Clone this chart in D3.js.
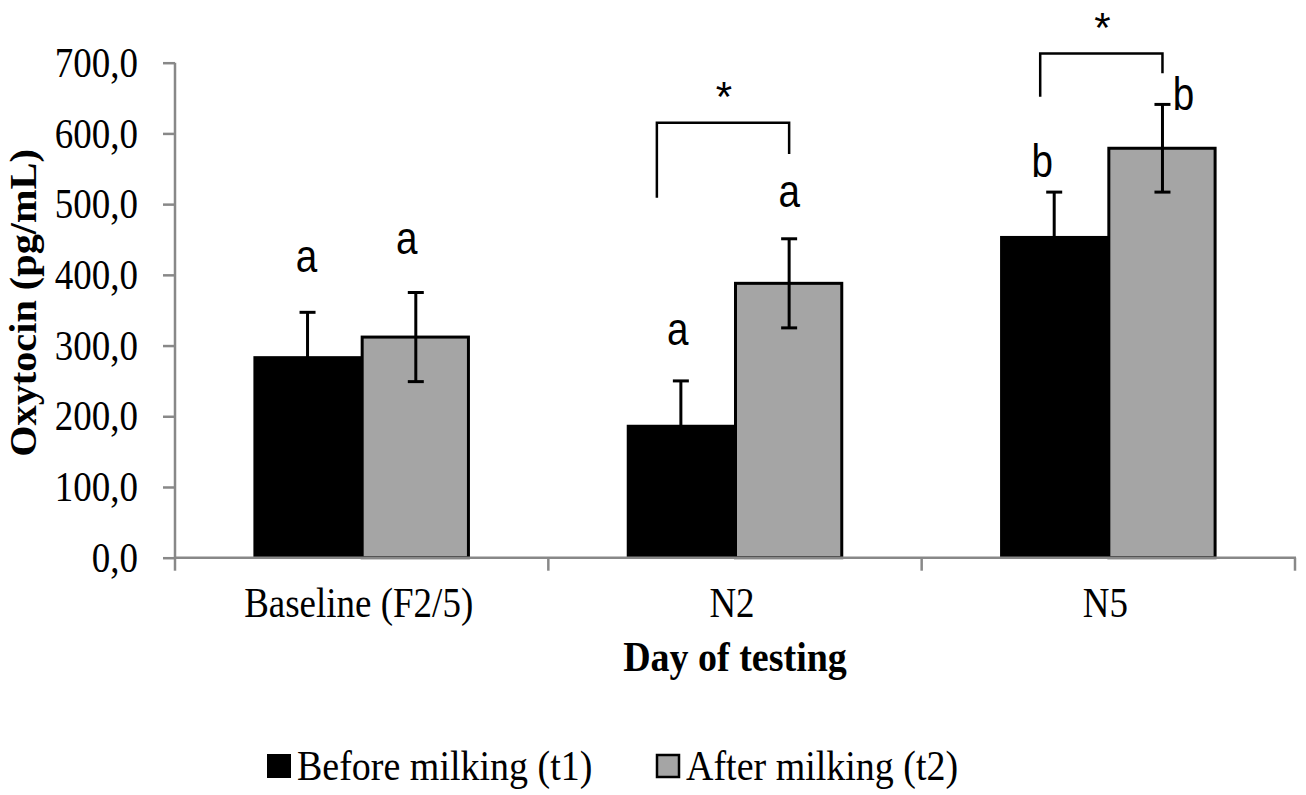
<!DOCTYPE html>
<html lang="en">
<head>
    <meta charset="UTF-8">
    <title>Oxytocin by day of testing</title>
    <script src="https://d3js.org/d3.v7.min.js"></script>
    <style>
        body {
            margin: 0;
            padding: 0;
            background-color: #fff;
        }
        .tick-label {
            font-family: "Liberation Serif", "Times New Roman", serif;
            font-size: 37px;
            fill: #000;
        }
        .axis-title {
            font-family: "Liberation Serif", "Times New Roman", serif;
            font-weight: bold;
            fill: #000;
        }
        .letter {
            font-family: "Liberation Sans", Arial, sans-serif;
            font-size: 42px;
            fill: #000;
        }
        .legend-text {
            font-family: "Liberation Serif", "Times New Roman", serif;
            font-size: 38px;
            fill: #000;
        }
    </style>
</head>
<body>
    <svg id="chart" width="1306" height="795"></svg>

    <script>
        // Data
        const categories = ["Baseline (F2/5)", "N2", "N5"];
        const seriesNames = ["Before milking (t1)", "After milking (t2)"];
        const beforeValues = [285, 188, 455];
        const afterValues = [312, 388, 579];
        const beforeErrors = [62, 62, 62];
        const afterErrors = [63, 63, 62];
        const beforeLetters = ["a", "a", "b"];
        const afterLetters = ["a", "a", "b"];
        const yTickValues = [0, 100, 200, 300, 400, 500, 600, 700];
        // significance brackets between t1 and t2 (values in pg/mL)
        const bracketCategories = ["N2", "N5"];
        const bracketLevels = [615, 713];
        const bracketLeftEnds = [509, 652];
        const bracketRightEnds = [571, 685];

        const seriesColors = ["#000000", "#a5a5a5"];
        const stretch = "scale(1,1.12)"; // the original figure's text is a bit tall

        const svg = d3.select("#chart");

        const plotLeft = 175, plotRight = 1295, plotTop = 62.7, plotBottom = 557.7;

        const x0 = d3.scaleBand()
            .domain(categories)
            .range([plotLeft, plotRight])
            .paddingInner(0.42)
            .paddingOuter(0.21);

        const x1 = d3.scaleBand()
            .domain(seriesNames)
            .range([0, x0.bandwidth()]);

        const y = d3.scaleLinear()
            .domain([0, 700])
            .range([plotBottom, plotTop]);

        const rows = categories.map((c, i) => [
            { cat: c, series: seriesNames[0], value: beforeValues[i], err: beforeErrors[i], letter: beforeLetters[i] },
            { cat: c, series: seriesNames[1], value: afterValues[i], err: afterErrors[i], letter: afterLetters[i] }
        ]);
        const flat = rows.flat();

        const barCenter = d => x0(d.cat) + x1(d.series) + x1.bandwidth() / 2;

        // Bars
        svg.append("g")
            .selectAll("rect")
            .data(flat)
            .enter().append("rect")
            .attr("x", d => x0(d.cat) + x1(d.series) + (d.series === seriesNames[1] ? 0.5 : 0))
            .attr("y", d => y(d.value))
            .attr("width", d => x1.bandwidth() - (d.series === seriesNames[1] ? 2 : 0))
            .attr("height", d => y(0) - y(d.value))
            .attr("fill", d => seriesColors[seriesNames.indexOf(d.series)])
            .attr("stroke", "#000")
            .attr("stroke-width", d => d.series === seriesNames[1] ? 3 : 0);

        // Error bars
        const err = svg.append("g")
            .attr("stroke", "#000")
            .attr("stroke-width", 3);

        flat.forEach(d => {
            const cx = barCenter(d);
            err.append("line")
                .attr("x1", cx).attr("x2", cx)
                .attr("y1", y(d.value - d.err)).attr("y2", y(d.value + d.err));
            [d.value + d.err, d.value - d.err].forEach(v => {
                err.append("line")
                    .attr("x1", cx - 8).attr("x2", cx + 8)
                    .attr("y1", y(v)).attr("y2", y(v));
            });
        });

        // Axes
        const yAxis = d3.axisLeft(y)
            .tickValues(yTickValues)
            .tickSize(12)
            .tickFormat(d => d3.format(".1f")(d).replace(".", ","));

        const gy = svg.append("g")
            .attr("transform", `translate(${plotLeft},0)`)
            .call(yAxis);
        gy.select(".domain").remove();
        gy.append("line")
            .attr("x1", 0).attr("x2", 0)
            .attr("y1", y(700)).attr("y2", y(0));
        gy.selectAll("line")
            .attr("stroke", "#888")
            .attr("stroke-width", 2.5);
        gy.selectAll(".tick text")
            .attr("class", "tick-label")
            .attr("x", -37)
            .attr("dy", "0.33em")
            .attr("transform", stretch);
        gy.attr("font-family", null).attr("font-size", null);

        const gx = svg.append("g")
            .attr("transform", `translate(0,${plotBottom})`);
        gx.append("line")
            .attr("x1", plotLeft).attr("x2", plotRight + 1)
            .attr("stroke", "#888")
            .attr("stroke-width", 2.5);
        const boundaries = [plotLeft].concat(categories.map(c => x0(c) + x0.bandwidth() + x0.step() * x0.paddingInner() / 2));
        boundaries[boundaries.length - 1] = plotRight;
        gx.selectAll(".xtick")
            .data(boundaries)
            .enter().append("line")
            .attr("x1", d => d).attr("x2", d => d)
            .attr("y1", 0).attr("y2", 13)
            .attr("stroke", "#888")
            .attr("stroke-width", 2.5);
        gx.selectAll(".xlabel")
            .data(categories)
            .enter().append("text")
            .attr("class", "tick-label")
            .attr("transform", d => `translate(${x0(d) + x0.bandwidth() / 2 - 3},59) ${stretch}`)
            .attr("text-anchor", "middle")
            .text(d => d);

        // Axis titles
        svg.append("text")
            .attr("class", "axis-title")
            .attr("font-size", 38)
            .attr("transform", `translate(735,671) ${stretch}`)
            .attr("text-anchor", "middle")
            .text("Day of testing");

        svg.append("text")
            .attr("class", "axis-title")
            .attr("font-size", 38)
            .attr("transform", "translate(36,303) rotate(-90) scale(1.06,1)")
            .attr("text-anchor", "middle")
            .text("Oxytocin (pg/mL)");

        // Group letters (nudges in px: dx from bar center, gap above error cap)
        const letterNudges = [[-1, 40], [-9, 39], [-3, 36], [0, 32], [-12, 15], [21, -6]];
        svg.append("g")
            .selectAll("text")
            .data(flat)
            .enter().append("text")
            .attr("class", "letter")
            .attr("text-anchor", "middle")
            .attr("transform", (d, i) => `translate(${barCenter(d) + letterNudges[i][0]},${y(d.value + d.err) - letterNudges[i][1]}) scale(0.92,1.1)`)
            .text(d => d.letter);

        // Significance brackets
        const leftLegNudges = [-24, -14];
        const br = svg.append("g");
        bracketCategories.forEach((c, i) => {
            const xl = barCenter({ cat: c, series: seriesNames[0] }) + leftLegNudges[i];
            const xr = barCenter({ cat: c, series: seriesNames[1] });
            br.append("path")
                .attr("d", `M${xl},${y(bracketLeftEnds[i])}V${y(bracketLevels[i])}H${xr}V${y(bracketRightEnds[i])}`)
                .attr("fill", "none")
                .attr("stroke", "#000")
                .attr("stroke-width", 2.5);
            br.append("text")
                .attr("class", "letter")
                .attr("font-size", 46)
                .attr("text-anchor", "middle")
                .attr("x", (xl + xr) / 2 + 1)
                .attr("y", y(bracketLevels[i]) - 12)
                .text("*");
        });

        // Legend
        const legendX = [267, 656];
        const legend = svg.append("g");
        seriesNames.forEach((s, i) => {
            legend.append("rect")
                .attr("x", legendX[i] + (i ? 1 : 0))
                .attr("y", 754 + (i ? 1 : 0))
                .attr("width", 24 - (i ? 2 : 0))
                .attr("height", 24 - (i ? 2 : 0))
                .attr("fill", seriesColors[i])
                .attr("stroke", "#000")
                .attr("stroke-width", i ? 2.5 : 0);
            legend.append("text")
                .attr("class", "legend-text")
                .attr("transform", `translate(${legendX[i] + 30},780) ${stretch}`)
                .text(s);
        });
    </script>
</body>
</html>
